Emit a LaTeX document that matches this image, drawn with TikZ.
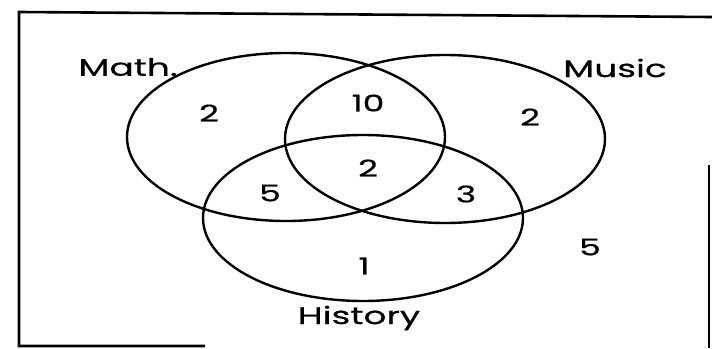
\documentclass[tikz,border=0pt]{standalone}
\usepackage{fontspec}
\newfontfamily\vennfont{Poppins}[FakeStretch=1.5, FakeBold=0.6]
\begin{document}
\begin{tikzpicture}[
  x=1pt, y=-1pt,
  set/.style={draw=black, line width=2.4pt},
  frame/.style={draw=black, line width=2.6pt},
  setname/.style={font=\vennfont\fontsize{24}{24}\selectfont, anchor=center, inner sep=0pt},
  count/.style={font=\vennfont\fontsize{23}{23}\selectfont, anchor=center, inner sep=0pt}]
  \useasboundingbox (0,0) rectangle (712,348);
  % Frame
  \draw[frame] (712,17) -- (19,12) -- (19,346) -- (205,346);
  \draw[frame] (709,165) -- (709,348);
  % Sets
  \coordinate (math) at (286,137);
  \coordinate (music) at (445,139);
  \coordinate (hist) at (363,218);
  \draw[set] (math) ellipse [x radius=159, y radius=84];
  \draw[set] (music) ellipse [x radius=160, y radius=84];
  \draw[set] (hist) ellipse [x radius=160, y radius=83];
  % Set names
  \node[setname] (lmath) at (128,67) {Math.};
  \node[setname] (lmusic) at (615,68) {Music};
  \node[setname] (lhist) at (359,318) {History};
  % Counts
  \node[count] (mo) at (209,113) {2};
  \node[count] (mm) at (368,103) {10};
  \node[count] (uo) at (530,117) {2};
  \node[count] (all) at (368,168) {2};
  \node[count] (mh) at (270,193) {5};
  \node[count] (uh) at (466,194) {3};
  \node[count] (ho) at (364,266) {1};
  \node[count] (none) at (590,247) {5};
\end{tikzpicture}
\end{document}
